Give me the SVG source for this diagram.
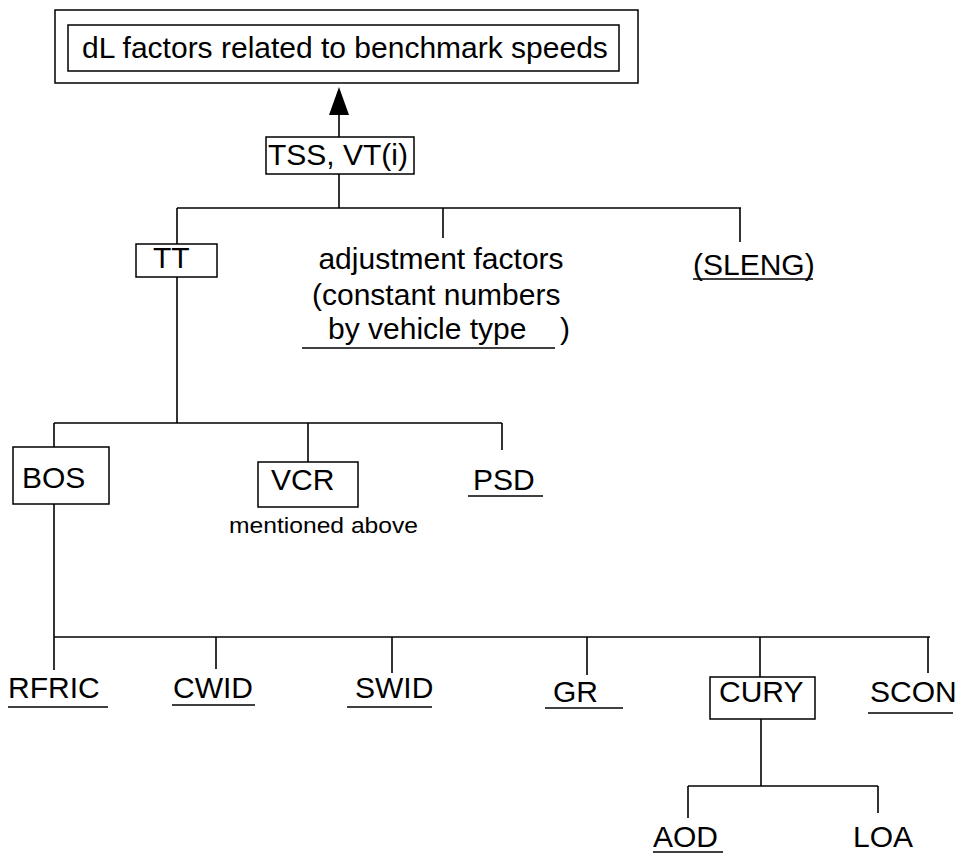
<svg xmlns="http://www.w3.org/2000/svg" width="963" height="853" viewBox="0 0 963 853">
<style>
text{font-family:"Liberation Sans",Arial,sans-serif;font-size:30px;fill:#000}
.small{font-size:22px}
.box{fill:#fff;stroke:#000;stroke-width:1.5}
.ln{stroke:#000;stroke-width:1.6;fill:none}
.ul{stroke:#000;stroke-width:1.4;fill:none}
</style>
<defs>
<marker id="arr" viewBox="0 0 20 28" refX="10" refY="0" markerWidth="20" markerHeight="28" markerUnits="userSpaceOnUse" orient="auto-start-reverse">
<path d="M0,28 L10,0 L20,28 Z" fill="#000"/>
</marker>
</defs>
<rect width="963" height="853" fill="#fff"/>
<g id="connectors">
<line class="ln" x1="339" y1="137" x2="339" y2="115"/>
<path d="M329,115 L339,87 L349,115 Z" fill="#000"/>
<line class="ln" x1="339" y1="174" x2="339" y2="208"/>
<line class="ln" x1="177" y1="208" x2="741" y2="208"/>
<line class="ln" x1="177" y1="208" x2="177" y2="244"/>
<line class="ln" x1="443" y1="208" x2="443" y2="238"/>
<line class="ln" x1="740" y1="208" x2="740" y2="242"/>
<line class="ln" x1="177" y1="277" x2="177" y2="423"/>
<line class="ln" x1="54" y1="423" x2="502" y2="423"/>
<line class="ln" x1="54" y1="423" x2="54" y2="447"/>
<line class="ln" x1="308" y1="423" x2="308" y2="462"/>
<line class="ln" x1="502" y1="423" x2="502" y2="450"/>
<line class="ln" x1="54" y1="504" x2="54" y2="670"/>
<line class="ln" x1="54" y1="637" x2="930" y2="637"/>
<line class="ln" x1="216" y1="637" x2="216" y2="669"/>
<line class="ln" x1="392" y1="637" x2="392" y2="673"/>
<line class="ln" x1="587" y1="637" x2="587" y2="675"/>
<line class="ln" x1="760" y1="637" x2="760" y2="677"/>
<line class="ln" x1="928" y1="637" x2="928" y2="673"/>
<line class="ln" x1="761" y1="719" x2="761" y2="786"/>
<line class="ln" x1="688" y1="786" x2="878" y2="786"/>
<line class="ln" x1="688" y1="786" x2="688" y2="818"/>
<line class="ln" x1="878" y1="786" x2="878" y2="813"/>
</g>
<g id="title">
<rect class="box" x="55" y="10" width="583" height="73"/>
<rect class="box" x="68" y="25" width="551" height="46"/>
<text x="82" y="58">dL factors related to benchmark speeds</text>
</g>
<g id="tss">
<rect class="box" x="266" y="137" width="148" height="37"/>
<text x="268" y="165">TSS, VT(i)</text>
</g>
<g id="tt">
<rect class="box" x="136" y="244" width="81" height="33"/>
<text x="153" y="268">TT</text>
</g>
<g id="adjustment">
<text x="441" y="269" text-anchor="middle">adjustment factors</text>
<text x="312" y="305">(constant numbers</text>
<text x="328" y="339">by vehicle type</text>
<text x="560" y="339">)</text>
<line class="ul" x1="302" y1="348" x2="555" y2="348"/>
</g>
<g id="sleng">
<text x="693" y="275">(SLENG)</text>
<line class="ul" x1="693" y1="279" x2="813" y2="279"/>
</g>
<g id="bos">
<rect class="box" x="13" y="447" width="96" height="57"/>
<text x="22" y="488">BOS</text>
</g>
<g id="vcr">
<rect class="box" x="258" y="462" width="100" height="45"/>
<text x="271" y="490">VCR</text>
<text class="small" x="229" y="533" textLength="189" lengthAdjust="spacingAndGlyphs">mentioned above</text>
</g>
<g id="psd">
<text x="473" y="490">PSD</text>
<line class="ul" x1="468" y1="496" x2="543" y2="496"/>
</g>
<g id="rfric">
<text x="8" y="698">RFRIC</text>
<line class="ul" x1="8" y1="707" x2="108" y2="707"/>
</g>
<g id="cwid">
<text x="173" y="698">CWID</text>
<line class="ul" x1="172" y1="705" x2="255" y2="705"/>
</g>
<g id="swid">
<text x="355" y="698">SWID</text>
<line class="ul" x1="347" y1="707" x2="432" y2="707"/>
</g>
<g id="gr">
<text x="553" y="702">GR</text>
<line class="ul" x1="545" y1="708" x2="623" y2="708"/>
</g>
<g id="cury">
<rect class="box" x="710" y="677" width="105" height="42"/>
<text x="719" y="702">CURY</text>
</g>
<g id="scon">
<text x="870" y="702">SCON</text>
<line class="ul" x1="868" y1="713" x2="953" y2="713"/>
</g>
<g id="aod">
<text x="653" y="847">AOD</text>
<line class="ul" x1="653" y1="852" x2="723" y2="852"/>
</g>
<g id="loa">
<text x="853" y="847">LOA</text>
</g>
</svg>
